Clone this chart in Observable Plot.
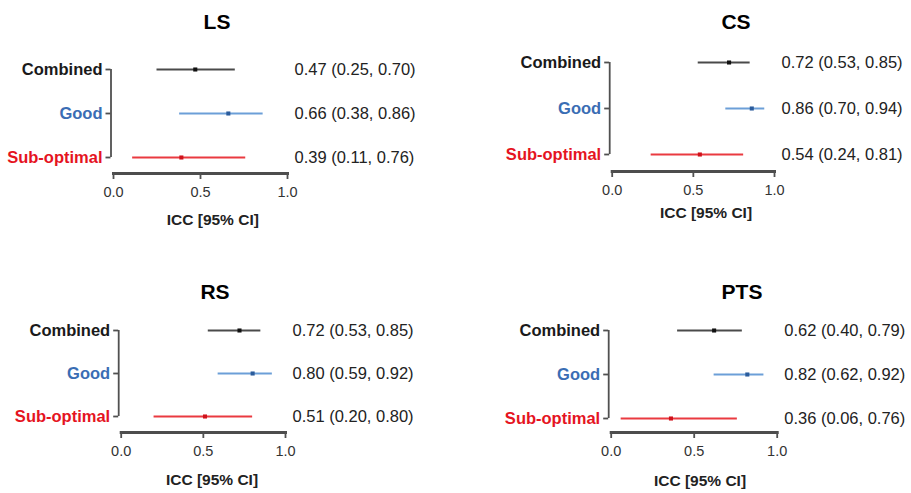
<!DOCTYPE html>
<html>
<head>
<meta charset="utf-8">
<script src="https://cdn.jsdelivr.net/npm/d3@7"></script>
<script src="https://cdn.jsdelivr.net/npm/@observablehq/plot@0.6"></script>
<style>
  html, body { margin: 0; padding: 0; background: #fff; }
  #chart { position: relative; width: 911px; height: 493px; background: #fff; font-family: "Liberation Sans", Arial, sans-serif; overflow: hidden; }
  #chart svg { position: absolute; }
  .ttl { position: absolute; transform: translate(-50%, -50%); font-weight: bold; font-size: 21px; color: #000; white-space: nowrap; }
  .xlab { position: absolute; transform: translate(-50%, -50%); font-weight: bold; font-size: 15.5px; color: #222; white-space: nowrap; }
</style>
</head>
<body>
<div id="chart"></div>
<script>
// ---- data ----
const panelNames = ["LS", "CS", "RS", "PTS"];
const groups = ["Combined", "Good", "Sub-optimal"];
const xTicks = [0, 0.5, 1];
const xLabel = "ICC [95% CI]";

const iccLS  = [0.47, 0.66, 0.39];
const loLS   = [0.25, 0.38, 0.11];
const hiLS   = [0.70, 0.86, 0.76];

const iccCS  = [0.72, 0.86, 0.54];
const loCS   = [0.53, 0.70, 0.24];
const hiCS   = [0.85, 0.94, 0.81];

const iccRS  = [0.72, 0.80, 0.51];
const loRS   = [0.53, 0.59, 0.20];
const hiRS   = [0.85, 0.92, 0.80];

const iccPTS = [0.62, 0.82, 0.36];
const loPTS  = [0.40, 0.62, 0.06];
const hiPTS  = [0.79, 0.92, 0.76];

// ---- styles ----
const labelColor = {"Combined": "#1a1a1a", "Good": "#3a6db4", "Sub-optimal": "#e5141f"};
const lineColor  = {"Combined": "#4a4a4a", "Good": "#6c9fd8", "Sub-optimal": "#ea3a40"};
const dotColor   = {"Combined": "#111111", "Good": "#2b5c9c", "Sub-optimal": "#d0121b"};
const axisColor = "#505050";
const FONT = "'Liberation Sans', Arial, Helvetica, sans-serif";

// ---- layout (page pixels) ----
const layouts = {
  LS:  {left: 0,   top: 0,   w: 455, h: 245, x0: 113,   x1: 287,   r0: 69,  r2: 157,   axis: 173, tx: 217, ty: 22,    lx: 212.8, ly: 220},
  CS:  {left: 455, top: 0,   w: 456, h: 245, x0: 611.7, x1: 774,   r0: 62,  r2: 154,   axis: 171, tx: 736, ty: 22,    lx: 706,   ly: 213},
  RS:  {left: 0,   top: 250, w: 455, h: 243, x0: 120.7, x1: 285,   r0: 330, r2: 416.7, axis: 432, tx: 215, ty: 291.7, lx: 212,   ly: 480},
  PTS: {left: 455, top: 250, w: 456, h: 243, x0: 610.7, x1: 776.7, r0: 330, r2: 418,   axis: 432, tx: 742, ty: 291.7, lx: 700,   ly: 481}
};

const values = {
  LS:  [iccLS, loLS, hiLS],
  CS:  [iccCS, loCS, hiCS],
  RS:  [iccRS, loRS, hiRS],
  PTS: [iccPTS, loPTS, hiPTS]
};

const chart = document.getElementById("chart");
const f2 = d3.format(".2f");

for (const name of panelNames) {
  const L = layouts[name];
  const [icc, lo, hi] = values[name];
  const rows = groups.map((g, i) => ({group: g, icc: icc[i], lo: lo[i], hi: hi[i]}));
  const last = groups[groups.length - 1];

  const plot = Plot.plot({
    width: L.w,
    height: L.h,
    marginLeft: L.x0 - L.left,
    marginRight: L.left + L.w - L.x1,
    marginTop: 10,
    marginBottom: L.top + L.h - L.axis,
    x: {domain: [xTicks[0], xTicks[xTicks.length - 1]]},
    y: {type: "point", domain: groups, padding: 0, range: [L.r0 - L.top, L.r2 - L.top]},
    style: {fontFamily: FONT, background: "transparent", overflow: "visible"},
    marks: [
      // y axis (R style bracket)
      Plot.ruleX([0], {y1: () => groups[0], y2: () => last, dx: -2.5, stroke: axisColor, strokeWidth: 1.8}),
      Plot.axisY({tickSize: 5, tickFormat: () => "", dx: -2.5, stroke: axisColor, strokeWidth: 1.8, label: null}),
      Plot.text(rows, {y: "group", text: "group", frameAnchor: "left", textAnchor: "end", dx: -11,
        fill: d => labelColor[d.group], fontWeight: "bold", fontSize: 16.5}),
      // x axis line along the frame bottom (x domain 0..1 = frame width)
      Plot.frame({anchor: "bottom", stroke: "#4d4d4d", strokeWidth: 3}),
      Plot.axisX({ticks: xTicks, tickFormat: d3.format(".1f"), tickSize: 6, tickPadding: 7, stroke: axisColor, strokeWidth: 1.8,
        fill: "#333", fontSize: 14.5, label: null}),
      // CIs and estimates
      Plot.ruleY(rows, {y: "group", x1: "lo", x2: "hi", stroke: d => lineColor[d.group], strokeWidth: 2}),
      Plot.dot(rows, {x: "icc", y: "group", symbol: "square", r: 2.3, fill: d => dotColor[d.group], stroke: "none"}),
      // value labels
      Plot.text(rows, {y: "group", text: d => `${f2(d.icc)} (${f2(d.lo)}, ${f2(d.hi)})`, frameAnchor: "right",
        textAnchor: "start", dx: 7, fill: "#222", fontSize: 16.5})
    ]
  });
  plot.style.left = L.left + "px";
  plot.style.top = L.top + "px";
  chart.appendChild(plot);

  const t = document.createElement("div");
  t.className = "ttl";
  t.textContent = name;
  t.style.left = L.tx + "px";
  t.style.top = L.ty + "px";
  chart.appendChild(t);

  const xl = document.createElement("div");
  xl.className = "xlab";
  xl.textContent = xLabel;
  xl.style.left = L.lx + "px";
  xl.style.top = L.ly + "px";
  chart.appendChild(xl);
}
</script>
</body>
</html>
